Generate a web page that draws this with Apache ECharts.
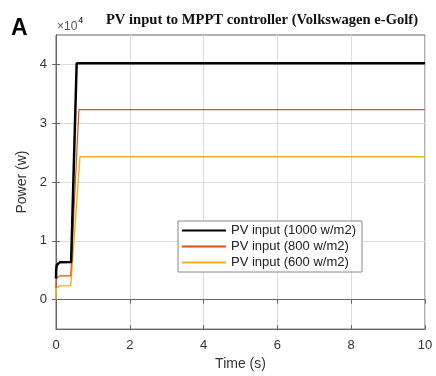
<!DOCTYPE html>
<html><head><meta charset="utf-8">
<script src="https://cdn.jsdelivr.net/npm/echarts@6/dist/echarts.min.js"></script>
<style>html,body{margin:0;padding:0;background:#fff}#c{width:436px;height:376px}</style>
</head><body><div id="c"></div>
<script>
// Time samples (s) and power (W) for each irradiance level
const t1000 = [0, 0.005, 0.02, 0.05, 0.1, 0.15, 0.41, 0.56, 10];
const p1000 = [3600, 5000, 5900, 6200, 6350, 6400, 6400, 40200, 40200];
const t800 = [0, 0.005, 0.02, 0.05, 0.1, 0.4, 0.62, 10];
const p800 = [2000, 3000, 3700, 3950, 4050, 4050, 32300, 32300];
const t600 = [0, 0.005, 0.02, 0.05, 0.1, 0.4, 0.65, 10];
const p600 = [0, 1500, 2000, 2250, 2350, 2350, 24300, 24300];
const seriesNames = ['PV input (1000 w/m2)', 'PV input (800 w/m2)', 'PV input (600 w/m2)'];
const xTicks = [0, 2, 4, 6, 8, 10];
const yTicks = [0, 10000, 20000, 30000, 40000];

const pair = (t, p) => t.map((v, i) => [v, p[i]]);
const chart = echarts.init(document.getElementById('c'));
const axisCol = '#666';
const labelStyle = {color: '#333', fontFamily: 'Liberation Sans, Arial', fontSize: 13};
chart.setOption({
  animation: false,
  graphic: [
    {type: 'text', left: 11, top: 17, style: {text: 'A', font: 'bold 23px "Liberation Sans", Arial', fill: '#000'}},
    {type: 'text', left: 57, top: 16, style: {
      text: '{a|\u00d710}{b|4}',
      rich: {
        a: {fontFamily: 'Liberation Sans, Arial', fontSize: 12, fill: '#555', color: '#555', verticalAlign: 'bottom'},
        b: {fontFamily: 'Liberation Sans, Arial', fontSize: 9, color: '#555', padding: [0, 0, 8, 1]}
      }
    }},
    {type: 'text', x: 262, y: 13, style: {text: 'PV input to MPPT controller (Volkswagen e-Golf)', font: 'bold 14.6px "Liberation Serif", "Times New Roman", serif', fill: '#111', align: 'center'}}
  ],
  grid: {left: 56, right: 11, top: 35, bottom: 46, show: true, borderColor: axisCol, borderWidth: 1, backgroundColor: '#fff'},
  legend: {
    orient: 'vertical', left: 178, top: 221, itemWidth: 44, itemHeight: 2, itemGap: 3, icon: 'rect',
    padding: [3, 6, 3, 4], backgroundColor: '#fff', borderColor: '#888', borderWidth: 1,
    textStyle: {fontFamily: 'Liberation Sans, Arial', fontSize: 13, color: '#222'},
    data: seriesNames
  },
  xAxis: [{
    type: 'value', min: 0, max: 10, interval: 2,
    name: 'Time (s)', nameLocation: 'middle', nameGap: 25,
    nameTextStyle: {fontFamily: 'Liberation Sans, Arial', fontSize: 14, color: '#333'},
    axisLine: {show: true, onZero: false, lineStyle: {color: axisCol}},
    axisTick: {show: true, inside: true, length: 4, lineStyle: {color: axisCol}},
    axisLabel: Object.assign({margin: 10, customValues: xTicks}, labelStyle),
    splitLine: {show: true, lineStyle: {color: '#dcdcdc', width: 1}}
  }, {
    type: 'value', min: 0, max: 10, interval: 2, position: 'top',
    axisLine: {show: true, lineStyle: {color: axisCol}},
    axisTick: {show: true, inside: true, length: 4, lineStyle: {color: axisCol}},
    axisLabel: {show: false}, splitLine: {show: false}
  }],
  yAxis: [{
    type: 'value', min: -5000, max: 45000,
    name: 'Power (w)', nameLocation: 'middle', nameGap: 27,
    nameTextStyle: {fontFamily: 'Liberation Sans, Arial', fontSize: 14, color: '#333'},
    axisLine: {show: true, onZero: false, lineStyle: {color: axisCol}},
    axisTick: {show: true, inside: true, length: 4, customValues: yTicks, lineStyle: {color: axisCol}},
    axisLabel: Object.assign({margin: 9, customValues: yTicks, formatter: v => String(Math.round(v / 10000))}, labelStyle),
    splitLine: {show: true, lineStyle: {color: '#dcdcdc', width: 1}}
  }, {
    type: 'value', min: -5000, max: 45000, position: 'right',
    axisLine: {show: true, lineStyle: {color: axisCol}},
    axisTick: {show: true, inside: true, length: 4, customValues: yTicks, lineStyle: {color: axisCol}},
    axisLabel: {show: false}, splitLine: {show: false}
  }],
  series: [
    {name: seriesNames[0], type: 'line', symbol: 'none', data: pair(t1000, p1000), lineStyle: {color: '#000', width: 2.5}, itemStyle: {color: '#000'}, z: 5},
    {name: seriesNames[1], type: 'line', symbol: 'none', data: pair(t800, p800), lineStyle: {color: '#D95319', width: 1.2}, itemStyle: {color: '#D95319'}, z: 4},
    {name: seriesNames[2], type: 'line', symbol: 'none', data: pair(t600, p600), lineStyle: {color: '#EDB120', width: 1.4}, itemStyle: {color: '#EDB120'}, z: 3}
  ]
});
</script></body></html>
